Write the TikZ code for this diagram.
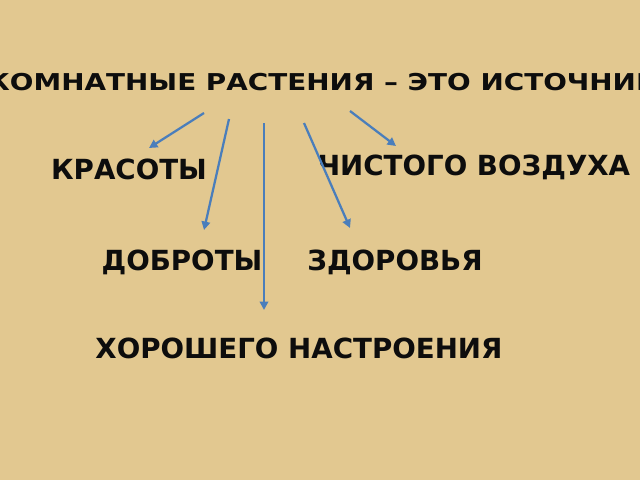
\documentclass[tikz,border=0pt]{standalone}
\usepackage{fontspec}
\setmainfont{DejaVu Sans}
\newfontfamily\titlefont[FakeStretch=1.2]{DejaVu Sans}
\usetikzlibrary{arrows.meta}
\definecolor{paper}{RGB}{226,200,144}
\definecolor{arrowblue}{RGB}{74,126,187}
\definecolor{ink}{RGB}{13,13,13}
\tikzset{
	word/.style={anchor=base, inner sep=0pt, text=ink, font=\fontsize{19.7}{23}\selectfont\bfseries},
	link/.style={draw=arrowblue, line width=1.6pt, -{Triangle[length=6pt,width=6pt]}}
}

\begin{document}
\begin{tikzpicture}[x=0.025cm, y=-0.025cm]
	\fill[paper] (0,0) rectangle (640,480);
	\useasboundingbox (0,0) rectangle (640,480);
	\clip (0,0) rectangle (640,480);

	\node[word, font=\titlefont\fontsize{16.5}{20}\selectfont\bfseries] (title) at (323,91) {КОМНАТНЫЕ РАСТЕНИЯ – ЭТО ИСТОЧНИК};
	\node[word] (beauty) at (129,179) {КРАСОТЫ};
	\node[word] (air) at (474,175) {ЧИСТОГО ВОЗДУХА};
	\node[word] (kindness) at (182,270) {ДОБРОТЫ};
	\node[word] (health) at (395,270) {ЗДОРОВЬЯ};
	\node[word] (mood) at (299,358) {ХОРОШЕГО НАСТРОЕНИЯ};

	\coordinate (beautyfrom) at (204,113);
	\coordinate (beautyto) at (149,148);
	\coordinate (kindnessfrom) at (229,119);
	\coordinate (kindnessto) at (204,230);
	\coordinate (moodfrom) at (264,123);
	\coordinate (moodto) at (264,310);
	\coordinate (healthfrom) at (304,123);
	\coordinate (healthto) at (350,228);
	\coordinate (airfrom) at (350,111);
	\coordinate (airto) at (396,146);

	\draw[link] (beautyfrom) -- (beautyto);
	\draw[link] (kindnessfrom) -- (kindnessto);
	\draw[link] (moodfrom) -- (moodto);
	\draw[link] (healthfrom) -- (healthto);
	\draw[link] (airfrom) -- (airto);
\end{tikzpicture}
\end{document}
